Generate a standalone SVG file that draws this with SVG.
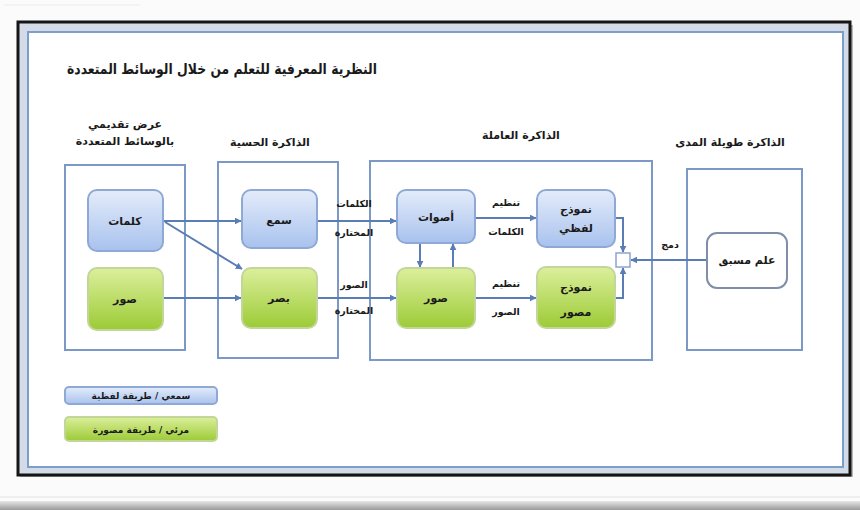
<svg xmlns="http://www.w3.org/2000/svg" width="860" height="510" viewBox="0 0 860 510">
  <defs>
    <linearGradient id="gBlue" x1="0" y1="0" x2="0" y2="1">
      <stop offset="0" stop-color="#e4ecfa"/>
      <stop offset="1" stop-color="#a8c2ee"/>
    </linearGradient>
    <linearGradient id="gGreen" x1="0" y1="0" x2="0" y2="1">
      <stop offset="0" stop-color="#dcef9c"/>
      <stop offset="1" stop-color="#9ccb36"/>
    </linearGradient>
    <linearGradient id="gFloor" x1="0" y1="0" x2="0" y2="1">
      <stop offset="0" stop-color="#e6e6e6"/>
      <stop offset="1" stop-color="#9a9a9a"/>
    </linearGradient>
    <marker id="arr" viewBox="0 0 10 10" refX="9" refY="5" markerWidth="7" markerHeight="7" orient="auto" markerUnits="userSpaceOnUse">
      <path d="M0,0 L10,5 L0,10 Z" fill="#5b7db5"/>
    </marker>
    <filter id="soft" x="-5%" y="-5%" width="110%" height="110%">
      <feGaussianBlur stdDeviation="0.5"/>
    </filter>
  </defs>
  <style>
    text { font-family: "DejaVu Sans", "Noto Sans", sans-serif; font-weight: bold; fill: #1a1a1a; text-anchor: middle; }
    .title { font-size: 15px; }
    .head { font-size: 11px; }
    .lbl { font-size: 11px; }
    .small { font-size: 9.5px; }
    .legend { font-size: 9px; }
    .region { fill: #ffffff; stroke: #7b98c6; stroke-width: 2; }
    .blue { fill: url(#gBlue); stroke: #8fa9d6; stroke-width: 2; }
    .green { fill: url(#gGreen); stroke: #c3d69a; stroke-width: 2; }
    .plain { fill: #ffffff; stroke: #7f8fa8; stroke-width: 2; }
    .conn { fill: none; stroke: #5b7db5; stroke-width: 2; marker-end: url(#arr); }
  </style>

  <rect x="0" y="0" width="860" height="510" fill="#fbfbfb"/>
  <line x1="4" y1="5" x2="140" y2="5" stroke="#ececec" stroke-width="1"/>
  <line x1="0" y1="497" x2="860" y2="497" stroke="#e2e2e2" stroke-width="1"/>
  <rect x="0" y="501" width="860" height="9" fill="url(#gFloor)"/>

  <!-- frame -->
  <g id="frame">
    <rect x="20" y="25" width="833" height="452" fill="#3a3a3a" opacity="0.35" filter="url(#soft)"/>
    <rect x="18" y="22" width="832" height="453" fill="#d3dbe8" stroke="#151515" stroke-width="3"/>
    <rect x="28" y="32" width="815" height="435" fill="#ffffff" stroke="#7f9dcb" stroke-width="2"/>
  </g>

  <text class="title" x="222" y="74" direction="rtl" textLength="310" lengthAdjust="spacingAndGlyphs">النظرية المعرفية للتعلم من خلال الوسائط المتعددة</text>

  <!-- regions -->
  <g id="presentation">
    <rect class="region" x="65" y="165" width="120" height="185"/>
    <text class="head" x="125" y="128" direction="rtl">عرض تقديمي</text>
    <text class="head" x="125" y="145" direction="rtl">بالوسائط المتعددة</text>
  </g>
  <g id="sensory">
    <rect class="region" x="218" y="162" width="120" height="196"/>
    <text class="head" x="270" y="146" direction="rtl">الذاكرة الحسية</text>
  </g>
  <g id="working">
    <rect class="region" x="370" y="161" width="282" height="199"/>
    <text class="head" x="521" y="139" direction="rtl">الذاكرة العاملة</text>
  </g>
  <g id="longterm">
    <rect class="region" x="687" y="169" width="115" height="181"/>
    <text class="head" x="730" y="146" direction="rtl">الذاكرة طويلة المدى</text>
  </g>

  <!-- connectors -->
  <g id="connectors">
    <line class="conn" x1="163" y1="221" x2="241" y2="221"/>
    <line class="conn" x1="165" y1="222" x2="242" y2="269"/>
    <line class="conn" x1="163" y1="298" x2="241" y2="298"/>
    <line class="conn" x1="317" y1="221" x2="396" y2="221"/>
    <line class="conn" x1="317" y1="298" x2="396" y2="298"/>
    <line class="conn" x1="475" y1="218" x2="536" y2="218"/>
    <line class="conn" x1="475" y1="298" x2="536" y2="298"/>
    <line class="conn" x1="420" y1="243" x2="420" y2="267"/>
    <line class="conn" x1="453" y1="268" x2="453" y2="244"/>
    <path class="conn" d="M615,218 H623 V252"/>
    <path class="conn" d="M615,298 H623 V268"/>
    <line class="conn" x1="707" y1="260" x2="631" y2="260"/>
  </g>

  <!-- connector labels -->
  <g id="connector-labels">
    <text class="small" x="354" y="207" direction="rtl">الكلمات</text>
    <text class="small" x="354" y="236" direction="rtl">المختارة</text>
    <text class="small" x="354" y="288" direction="rtl">الصور</text>
    <text class="small" x="354" y="314" direction="rtl">المختارة</text>
    <text class="small" x="506" y="206" direction="rtl">تنظيم</text>
    <text class="small" x="506" y="235" direction="rtl">الكلمات</text>
    <text class="small" x="506" y="287" direction="rtl">تنظيم</text>
    <text class="small" x="506" y="315" direction="rtl">الصور</text>
    <text class="small" x="670" y="248" direction="rtl">دمج</text>
  </g>

  <!-- nodes -->
  <g id="words">
    <rect class="blue" x="88" y="190" width="75" height="61" rx="9"/>
    <text class="lbl" x="125" y="225" direction="rtl">كلمات</text>
  </g>
  <g id="pictures">
    <rect class="green" x="88" y="268" width="75" height="62" rx="9"/>
    <text class="lbl" x="125" y="303" direction="rtl">صور</text>
  </g>
  <g id="ears">
    <rect class="blue" x="242" y="190" width="75" height="58" rx="9"/>
    <text class="lbl" x="279" y="224" direction="rtl">سمع</text>
  </g>
  <g id="eyes">
    <rect class="green" x="242" y="268" width="75" height="60" rx="9"/>
    <text class="lbl" x="279" y="302" direction="rtl">بصر</text>
  </g>
  <g id="sounds">
    <rect class="blue" x="397" y="190" width="78" height="53" rx="9"/>
    <text class="lbl" x="436" y="221" direction="rtl">أصوات</text>
  </g>
  <g id="images">
    <rect class="green" x="397" y="268" width="78" height="60" rx="9"/>
    <text class="lbl" x="436" y="302" direction="rtl">صور</text>
  </g>
  <g id="verbal-model">
    <rect class="blue" x="537" y="190" width="78" height="57" rx="9"/>
    <text class="lbl" x="576" y="213" direction="rtl">نموذج</text>
    <text class="lbl" x="576" y="232" direction="rtl">لفظي</text>
  </g>
  <g id="pictorial-model">
    <rect class="green" x="537" y="267" width="78" height="61" rx="9"/>
    <text class="lbl" x="576" y="291" direction="rtl">نموذج</text>
    <text class="lbl" x="576" y="316" direction="rtl">مصور</text>
  </g>
  <g id="junction">
    <rect x="616" y="253" width="14" height="14" fill="#ffffff" stroke="#8ba5cf" stroke-width="1.5"/>
  </g>
  <g id="prior-knowledge">
    <rect class="plain" x="707" y="233" width="80" height="55" rx="10"/>
    <text class="lbl" x="747" y="264" direction="rtl">علم مسبق</text>
  </g>

  <!-- legend -->
  <g id="legend-verbal">
    <rect class="blue" x="65" y="387" width="152" height="17" rx="4"/>
    <text class="legend" x="141" y="399" direction="rtl">سمعي / طريقة لفظية</text>
  </g>
  <g id="legend-visual">
    <rect class="green" x="65" y="417" width="152" height="24" rx="4"/>
    <text class="legend" x="141" y="433" direction="rtl">مرئي / طريقة مصورة</text>
  </g>
</svg>
